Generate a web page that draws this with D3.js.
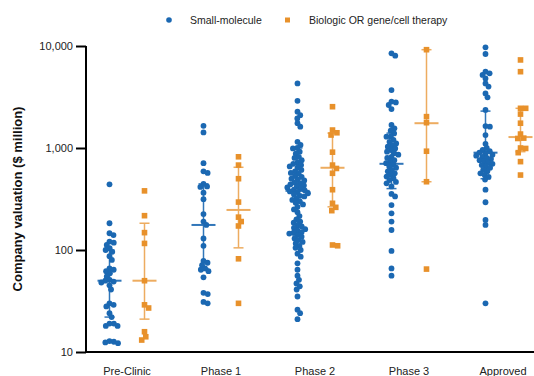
<!DOCTYPE html>
<html>
<head>
<meta charset="utf-8">
<script src="https://cdn.jsdelivr.net/npm/d3@7"></script>
<style>
  body { margin: 0; background: #fff; }
  svg { font-family: "Liberation Sans", Arial, sans-serif; }
</style>
</head>
<body>
<div id="chart"></div>
<script>
// Categories and tick labels
const categories = ["Pre-Clinic", "Phase 1", "Phase 2", "Phase 3", "Approved"];
const yTicks = [10, 100, 1000, 10000];
const seriesNames = ["Small-molecule", "Biologic OR gene/cell therapy"];

// Small-molecule valuations ($ million) per stage
const smallPre = [440, 183, 146, 140, 121, 118, 112, 104, 100, 96, 87, 80, 66, 64, 62, 59, 55, 51, 50, 49, 48, 45, 41, 30, 29, 28, 24, 22, 19, 19, 18, 18, 12.8, 12.6, 12.4, 12.2];
const smallP1 = [1650, 1420, 710, 590, 570, 445, 420, 415, 365, 315, 225, 190, 176, 130, 110, 78, 75, 71, 66, 64, 62, 54, 38, 37, 31, 30];
const smallP2 = [4300, 2900, 2270, 2100, 1950, 1750, 1620, 1150, 1070, 1000, 990, 920, 880, 820, 800, 760, 720, 700, 680, 660, 640, 610, 590, 570, 560, 530, 520, 500, 490, 480, 460, 450, 440, 430, 420, 410, 400, 390, 385, 375, 370, 360, 350, 340, 335, 320, 310, 300, 290, 280, 265, 250, 235, 215, 200, 190, 185, 175, 170, 165, 160, 155, 150, 148, 145, 140, 135, 130, 125, 120, 116, 110, 105, 100, 92, 86, 74, 64, 56, 51, 47, 44, 41, 35, 26, 24, 21];
const smallP3 = [8470, 8040, 3700, 2850, 2800, 2640, 2410, 1680, 1560, 1480, 1390, 1300, 1290, 1200, 1150, 1110, 1060, 1030, 990, 955, 920, 890, 860, 820, 800, 760, 740, 710, 690, 660, 640, 610, 590, 565, 545, 525, 505, 485, 465, 450, 420, 355, 335, 276, 229, 190, 157, 98, 66, 56];
const smallAp = [9700, 8350, 5600, 5400, 5200, 4800, 4300, 4000, 3430, 3140, 2360, 1640, 1620, 1340, 1100, 1000, 960, 930, 900, 880, 860, 840, 820, 800, 780, 760, 740, 720, 700, 680, 660, 640, 610, 590, 565, 545, 520, 490, 390, 294, 197, 176, 30];

// Biologic OR gene/cell therapy valuations per stage
const bioPre = [380, 217, 148, 116, 50, 29, 27, 15.8, 14.1, 13.1];
const bioP1 = [820, 680, 500, 295, 210, 190, 172, 82, 30];
const bioP2 = [2540, 1500, 1410, 1340, 910, 680, 630, 565, 390, 287, 262, 243, 112, 110];
const bioP3 = [9200, 2030, 1770, 930, 467, 65];
const bioAp = [7300, 5600, 2450, 2450, 2150, 1750, 1370, 1250, 1240, 1000, 990, 900, 735, 543];

// Median with range bars: [median, low, high]
const smallBars = [[50, 22, 100], [176, 66, 445], [380, 140, 1000], [700, 400, 1400], [900, 500, 2300]];
const bioBars = [[50, 21, 183], [247, 105, 647], [640, 265, 1400], [1750, 467, 9200], [1280, 920, 2450]];

const smallData = [smallPre, smallP1, smallP2, smallP3, smallAp];
const bioData = [bioPre, bioP1, bioP2, bioP3, bioAp];

const blue = "#1b68b2";
const orange = "#e8912b";

const width = 534, height = 376;
const svg = d3.select("#chart").append("svg")
    .attr("width", width)
    .attr("height", height);

const x = d3.scaleBand()
    .domain(categories)
    .range([80, 550]);

const y = d3.scaleLog()
    .domain([10, 10000])
    .range([352, 46]);

const offset = 17.5;
const r = 2.9;

// simple beeswarm: place each point nearest the column centre,
// points are allowed to overlap a bit like in the original
function swarm(values, cx, d) {
    const pts = values.map(v => ({ v, y: y(v) })).sort((a, b) => a.y - b.y);
    const placed = [];
    pts.forEach(p => {
        const cands = [0];
        placed.forEach(q => {
            const dy = Math.abs(q.y - p.y);
            if (dy < d) {
                const dx = Math.sqrt(d * d - dy * dy);
                cands.push(q.dx + dx, q.dx - dx);
            }
        });
        cands.sort((a, b) => Math.abs(a) - Math.abs(b));
        for (const c of cands) {
            const ok = placed.every(q => {
                const dy = q.y - p.y, dx = q.dx - c;
                return dx * dx + dy * dy >= d * d - 0.01;
            });
            if (ok) { p.dx = c; break; }
        }
        placed.push(p);
    });
    return placed.map(p => ({ v: p.v, x: cx + p.dx, y: p.y }));
}

const plot = svg.append("g");

categories.forEach((cat, i) => {
    const cx = x(cat) + x.bandwidth() / 2;

    // small-molecule dots
    plot.append("g").selectAll("circle")
        .data(swarm(smallData[i], cx - offset, 4.4))
        .enter().append("circle")
        .attr("cx", d => d.x)
        .attr("cy", d => d.y)
        .attr("r", r)
        .attr("fill", blue);

    // biologic squares
    const s = 5.6;
    plot.append("g").selectAll("rect")
        .data(swarm(bioData[i], cx + offset, 5.2))
        .enter().append("rect")
        .attr("x", d => d.x - s / 2)
        .attr("y", d => d.y - s / 2)
        .attr("width", s)
        .attr("height", s)
        .attr("fill", orange);
});

// error bars
function drawBar(g, bx, bar, color, op) {
    const [m, lo, hi] = bar;
    const eg = g.append("g").attr("stroke", color).attr("stroke-width", 1.5).attr("opacity", op);
    eg.append("line").attr("x1", bx).attr("x2", bx).attr("y1", y(lo)).attr("y2", y(hi));
    eg.append("line").attr("x1", bx - 5).attr("x2", bx + 5).attr("y1", y(lo)).attr("y2", y(lo));
    eg.append("line").attr("x1", bx - 5).attr("x2", bx + 5).attr("y1", y(hi)).attr("y2", y(hi));
    eg.append("line").attr("x1", bx - 12).attr("x2", bx + 12).attr("y1", y(m)).attr("y2", y(m)).attr("stroke-width", 2);
}

categories.forEach((cat, i) => {
    const cx = x(cat) + x.bandwidth() / 2;
    drawBar(plot, cx - offset, smallBars[i], blue, 0.9);
    drawBar(plot, cx + offset, bioBars[i], orange, 0.75);
});

// y axis
const yAxis = svg.append("g")
    .attr("transform", "translate(86,0)")
    .call(d3.axisLeft(y).tickValues(yTicks).tickFormat(d3.format(",")).tickSize(10).tickPadding(3));
yAxis.select(".domain").attr("stroke-width", 2).attr("d", "M0,46V352");
yAxis.selectAll(".tick line").attr("stroke-width", 2);
yAxis.selectAll("text").attr("font-size", 11).attr("fill", "#222");

// x axis
svg.append("line")
    .attr("x1", 85).attr("x2", 534)
    .attr("y1", 352).attr("y2", 352)
    .attr("stroke", "#000").attr("stroke-width", 2);

svg.append("g").selectAll("text")
    .data(categories)
    .enter().append("text")
    .attr("x", d => x(d) + x.bandwidth() / 2)
    .attr("y", 375)
    .attr("text-anchor", "middle")
    .attr("font-size", 11)
    .attr("fill", "#222")
    .text(d => d);

// y label
svg.append("text")
    .attr("transform", "translate(22,199) rotate(-90)")
    .attr("text-anchor", "middle")
    .attr("font-size", 13)
    .attr("font-weight", "bold")
    .attr("fill", "#111")
    .text("Company valuation ($ million)");

// legend
const legend = svg.append("g").attr("font-size", 10.5).attr("fill", "#222");
legend.append("circle").attr("cx", 169).attr("cy", 20).attr("r", 2.8).attr("fill", blue);
legend.append("text").attr("x", 190).attr("y", 24).text(seriesNames[0]);
legend.append("rect").attr("x", 285).attr("y", 17.5).attr("width", 5).attr("height", 5).attr("fill", orange);
legend.append("text").attr("x", 309).attr("y", 24).text(seriesNames[1]);
</script>
</body>
</html>
